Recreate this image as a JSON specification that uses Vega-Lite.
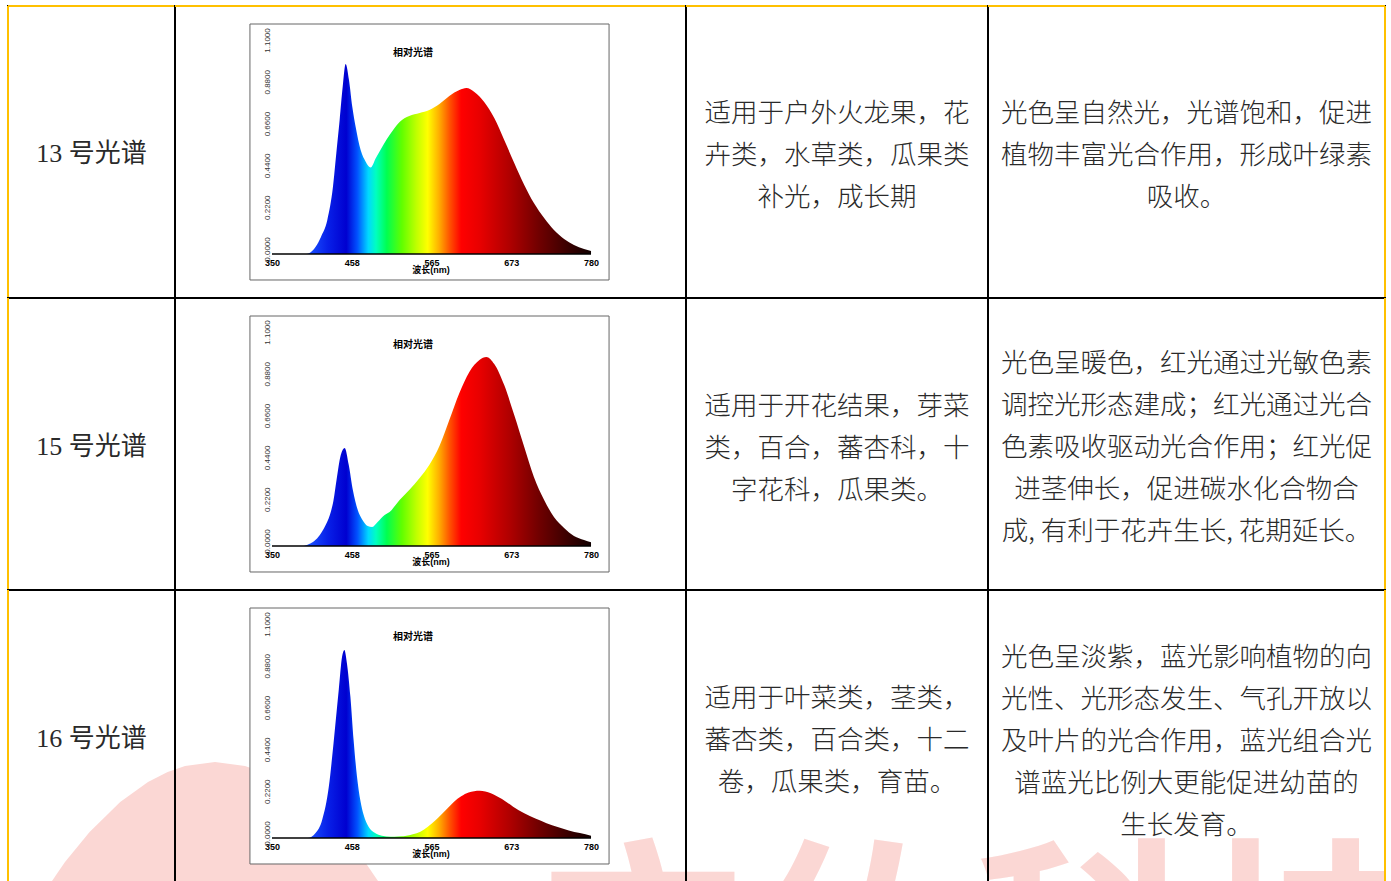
{
  "$schema": "https://vega.github.io/schema/vega-lite/v6.json",
  "background": "white",
  "padding": {"left": 6, "top": 4, "right": 0, "bottom": 0},
  "columns": 4,
  "spacing": 0,
  "bounds": "flush",
  "align": "each",
  "config": {
    "view": {"stroke": "#000000", "strokeWidth": 2},
    "axis": {"grid": false}
  },
  "datasets": {
    "s13": [
      {"wl": 350, "v": 0}, {"wl": 396, "v": 0}, {"wl": 400, "v": 0.004}, {"wl": 408.9, "v": 0.038},
      {"wl": 416, "v": 0.09}, {"wl": 424.6, "v": 0.179}, {"wl": 432.2, "v": 0.354}, {"wl": 436.7, "v": 0.53},
      {"wl": 441.2, "v": 0.705}, {"wl": 445.3, "v": 0.88}, {"wl": 449.3, "v": 1.0}, {"wl": 453.8, "v": 0.916},
      {"wl": 458.3, "v": 0.774}, {"wl": 462.8, "v": 0.668}, {"wl": 469.5, "v": 0.547}, {"wl": 476.3, "v": 0.486},
      {"wl": 483, "v": 0.455},
      {"wl": 490, "v": 0.505}, {"wl": 500, "v": 0.574}, {"wl": 508.5, "v": 0.626}, {"wl": 522, "v": 0.695},
      {"wl": 535, "v": 0.726}, {"wl": 549, "v": 0.742}, {"wl": 562, "v": 0.758}, {"wl": 575.7, "v": 0.79},
      {"wl": 589, "v": 0.832}, {"wl": 602.6, "v": 0.863}, {"wl": 612, "v": 0.874}, {"wl": 622.8, "v": 0.853},
      {"wl": 636, "v": 0.8}, {"wl": 649.6, "v": 0.716}, {"wl": 663, "v": 0.6}, {"wl": 676.5, "v": 0.479},
      {"wl": 690, "v": 0.363}, {"wl": 703, "v": 0.268}, {"wl": 716.8, "v": 0.189}, {"wl": 730, "v": 0.126},
      {"wl": 743.7, "v": 0.079}, {"wl": 757, "v": 0.047}, {"wl": 770.6, "v": 0.026}, {"wl": 780, "v": 0.016}
    ],
    "s15": [
      {"wl": 350, "v": 0}, {"wl": 392, "v": 0}, {"wl": 400, "v": 0.01}, {"wl": 407, "v": 0.026},
      {"wl": 414.5, "v": 0.058}, {"wl": 421, "v": 0.1}, {"wl": 428, "v": 0.163}, {"wl": 433, "v": 0.242},
      {"wl": 437, "v": 0.347}, {"wl": 442.7, "v": 0.479}, {"wl": 448, "v": 0.516}, {"wl": 453.5, "v": 0.426},
      {"wl": 459, "v": 0.295}, {"wl": 465.6, "v": 0.19}, {"wl": 472, "v": 0.137}, {"wl": 479, "v": 0.105},
      {"wl": 485, "v": 0.1}, {"wl": 492.4, "v": 0.126}, {"wl": 501.8, "v": 0.163}, {"wl": 508.5, "v": 0.179},
      {"wl": 522, "v": 0.242}, {"wl": 535, "v": 0.295}, {"wl": 549, "v": 0.358}, {"wl": 562, "v": 0.426},
      {"wl": 575.7, "v": 0.526}, {"wl": 589, "v": 0.663}, {"wl": 602.6, "v": 0.805}, {"wl": 616, "v": 0.916},
      {"wl": 629.6, "v": 0.979}, {"wl": 639, "v": 0.995}, {"wl": 649.6, "v": 0.958}, {"wl": 663, "v": 0.847},
      {"wl": 676.5, "v": 0.689}, {"wl": 690, "v": 0.521}, {"wl": 703, "v": 0.363}, {"wl": 716.8, "v": 0.242},
      {"wl": 730, "v": 0.153}, {"wl": 743.7, "v": 0.095}, {"wl": 757, "v": 0.053}, {"wl": 770.6, "v": 0.032},
      {"wl": 780, "v": 0.02}
    ],
    "s16": [
      {"wl": 350, "v": 0}, {"wl": 398, "v": 0}, {"wl": 408.7, "v": 0.026}, {"wl": 417.6, "v": 0.095},
      {"wl": 426.6, "v": 0.27}, {"wl": 433, "v": 0.5}, {"wl": 440, "v": 0.78}, {"wl": 444.5, "v": 0.955},
      {"wl": 447.6, "v": 0.99}, {"wl": 451, "v": 0.92}, {"wl": 455.7, "v": 0.744}, {"wl": 460, "v": 0.516},
      {"wl": 464.6, "v": 0.323}, {"wl": 469, "v": 0.2}, {"wl": 473.6, "v": 0.121}, {"wl": 480, "v": 0.06},
      {"wl": 489, "v": 0.026}, {"wl": 498, "v": 0.012}, {"wl": 510, "v": 0.007}, {"wl": 520, "v": 0.008},
      {"wl": 535, "v": 0.015}, {"wl": 545, "v": 0.025}, {"wl": 555, "v": 0.045}, {"wl": 565, "v": 0.075},
      {"wl": 575, "v": 0.11}, {"wl": 585, "v": 0.15}, {"wl": 595, "v": 0.19}, {"wl": 605, "v": 0.22},
      {"wl": 615, "v": 0.24}, {"wl": 630, "v": 0.249}, {"wl": 645, "v": 0.236}, {"wl": 660, "v": 0.205},
      {"wl": 675, "v": 0.165}, {"wl": 690, "v": 0.13}, {"wl": 705, "v": 0.102}, {"wl": 720, "v": 0.078},
      {"wl": 735, "v": 0.058}, {"wl": 750, "v": 0.04}, {"wl": 765, "v": 0.026}, {"wl": 780, "v": 0.012}
    ]
  },
  "concat": [
    {
      "width": 167, "height": 292,
      "data": {"values": [{"label": "13 号光谱"}]},
      "layer": [
        {"mark": {"type": "text", "font": "Liberation Serif, Noto Sans CJK SC", "fontSize": 26, "color": "#2a2a2a", "dy": 2}, "encoding": {"text": {"field": "label"}}},
        {"mark": {"type": "rule", "color": "#FFC000", "strokeWidth": 2}, "encoding": {"x": {"datum": 0, "type": "quantitative", "scale": {"domain": [0, 1]}, "axis": null}}},
        {"mark": {"type": "rule", "color": "#FFC000", "strokeWidth": 2}, "encoding": {"y": {"datum": 1, "type": "quantitative", "scale": {"domain": [0, 1]}, "axis": null}}}
      ]
    },
    {
      "width": 511, "height": 292,
      "data": {"name": "s13"},
      "layer": [
        {"data": {"values": [{}]}, "mark": {"type": "rect", "fill": "white", "stroke": "#666666", "strokeWidth": 1}, "encoding": {"x": {"datum": 320.3, "type": "quantitative", "scale": {"domain": [219.3, 908.0], "nice": false, "zero": false}}, "x2": {"datum": 804.3}, "y": {"datum": 1.2105, "type": "quantitative", "scale": {"domain": [-0.2316, 1.3053], "nice": false, "zero": false}}, "y2": {"datum": -0.1368}}},
        {"mark": {"type": "area", "interpolate": "monotone", "color": {"gradient": "linear", "x1": 0, "y1": 0, "x2": 1, "y2": 0, "stops": [
          {"offset": 0, "color": "#1040ff"}, {"offset": 0.116, "color": "#1a50ff"}, {"offset": 0.175, "color": "#0820e8"}, {"offset": 0.233, "color": "#0000d0"}, {"offset": 0.267, "color": "#0050ff"}, {"offset": 0.302, "color": "#00d8ff"}, {"offset": 0.326, "color": "#00ffc0"}, {"offset": 0.36, "color": "#00ff50"}, {"offset": 0.407, "color": "#60ff00"}, {"offset": 0.453, "color": "#c0ff00"}, {"offset": 0.488, "color": "#ffff00"}, {"offset": 0.523, "color": "#ffb000"}, {"offset": 0.558, "color": "#ff5000"}, {"offset": 0.593, "color": "#ff0000"}, {"offset": 0.651, "color": "#e80000"}, {"offset": 0.744, "color": "#b00000"}, {"offset": 0.837, "color": "#700000"}, {"offset": 0.93, "color": "#380000"}, {"offset": 1, "color": "#100000"}]}},
          "encoding": {
            "x": {"field": "wl", "type": "quantitative", "scale": {"domain": [219.3, 908.0], "nice": false, "zero": false}, "axis": {"orient": "bottom", "offset": -44, "values": [350, 457.5, 565, 672.5, 780], "labelExpr": "format(datum.value, '.0f')", "domain": false, "ticks": false, "labelFont": "Liberation Sans", "labelFontSize": 9, "labelFontWeight": "bold", "labelColor": "#000000", "labelPadding": 4, "labelFlush": false, "labelOverlap": false, "title": "波长(nm)", "titleFont": "Liberation Sans, Noto Sans CJK SC", "titleFontSize": 9, "titleFontWeight": "bold", "titleColor": "#000000", "titlePadding": -2, "zindex": 1}},
            "y": {"field": "v", "type": "quantitative", "scale": {"domain": [-0.2316, 1.3053], "nice": false, "zero": false}, "axis": {"orient": "left", "offset": -97, "values": [0, 0.22, 0.44, 0.66, 0.88, 1.1], "format": ".4f", "labelAngle": 270, "domain": false, "ticks": false, "labelFont": "Liberation Sans", "labelFontSize": 8, "labelColor": "#333333", "labelPadding": 1, "labelOffset": -5, "labelFlush": false, "labelOverlap": false, "title": null, "zindex": 1}}
          }
        },
        {"data": {"values": [{}]}, "mark": {"type": "rule", "color": "#000000", "strokeWidth": 1.5}, "encoding": {"x": {"datum": 350, "type": "quantitative", "scale": {"domain": [219.3, 908.0], "nice": false, "zero": false}}, "x2": {"datum": 780}, "y": {"datum": 0, "type": "quantitative", "scale": {"domain": [-0.2316, 1.3053], "nice": false, "zero": false}}}},
        {"data": {"values": [{"t": "相对光谱"}]}, "mark": {"type": "text", "font": "Noto Sans CJK SC", "fontSize": 10, "fontWeight": "bold", "color": "#000000"}, "encoding": {"text": {"field": "t"}, "x": {"datum": 540, "type": "quantitative", "scale": {"domain": [219.3, 908.0], "nice": false, "zero": false}}, "y": {"datum": 1.06, "type": "quantitative", "scale": {"domain": [-0.2316, 1.3053], "nice": false, "zero": false}}}},
        {"data": {"values": [{}]}, "mark": {"type": "rule", "color": "#FFC000", "strokeWidth": 2}, "encoding": {"y": {"datum": 1.3053, "type": "quantitative", "scale": {"domain": [-0.2316, 1.3053], "nice": false, "zero": false}}}}
      ]
    },
    {
      "width": 302, "height": 292,
      "data": {"values": [{"t": "适用于户外火龙果，花\n卉类，水草类，瓜果类\n补光，成长期"}]},
      "layer": [
        {"mark": {"type": "text", "font": "Noto Sans CJK SC", "fontSize": 26.5, "fontWeight": 300, "color": "#2a2a2a", "lineBreak": "\n", "lineHeight": 42, "dy": -38}, "encoding": {"text": {"field": "t"}}},
        {"mark": {"type": "rule", "color": "#FFC000", "strokeWidth": 2}, "encoding": {"y": {"datum": 1, "type": "quantitative", "scale": {"domain": [0, 1]}, "axis": null}}}
      ]
    },
    {
      "width": 397, "height": 292,
      "data": {"values": [{"t": "光色呈自然光，光谱饱和，促进\n植物丰富光合作用，形成叶绿素\n吸收。"}]},
      "layer": [
        {"mark": {"type": "text", "font": "Noto Sans CJK SC", "fontSize": 26.5, "fontWeight": 300, "color": "#2a2a2a", "lineBreak": "\n", "lineHeight": 42, "dy": -38}, "encoding": {"text": {"field": "t"}}},
        {"mark": {"type": "rule", "color": "#FFC000", "strokeWidth": 2}, "encoding": {"y": {"datum": 1, "type": "quantitative", "scale": {"domain": [0, 1]}, "axis": null}}},
        {"mark": {"type": "rule", "color": "#FFC000", "strokeWidth": 2}, "encoding": {"x": {"datum": 1, "type": "quantitative", "scale": {"domain": [0, 1]}, "axis": null}}}
      ]
    },
    {
      "width": 167, "height": 292,
      "data": {"values": [{"label": "15 号光谱"}]},
      "layer": [
        {"mark": {"type": "text", "font": "Liberation Serif, Noto Sans CJK SC", "fontSize": 26, "color": "#2a2a2a", "dy": 3}, "encoding": {"text": {"field": "label"}}},
        {"mark": {"type": "rule", "color": "#FFC000", "strokeWidth": 2}, "encoding": {"x": {"datum": 0, "type": "quantitative", "scale": {"domain": [0, 1]}, "axis": null}}}
      ]
    },
    {
      "width": 511, "height": 292,
      "data": {"name": "s15"},
      "layer": [
        {"data": {"values": [{}]}, "mark": {"type": "rect", "fill": "white", "stroke": "#666666", "strokeWidth": 1}, "encoding": {"x": {"datum": 320.3, "type": "quantitative", "scale": {"domain": [219.3, 908.0], "nice": false, "zero": false}}, "x2": {"datum": 804.3}, "y": {"datum": 1.2105, "type": "quantitative", "scale": {"domain": [-0.2316, 1.3053], "nice": false, "zero": false}}, "y2": {"datum": -0.1368}}},
        {"mark": {"type": "area", "interpolate": "monotone", "color": {"gradient": "linear", "x1": 0, "y1": 0, "x2": 1, "y2": 0, "stops": [
          {"offset": 0, "color": "#1040ff"}, {"offset": 0.116, "color": "#1a50ff"}, {"offset": 0.175, "color": "#0820e8"}, {"offset": 0.233, "color": "#0000d0"}, {"offset": 0.267, "color": "#0050ff"}, {"offset": 0.302, "color": "#00d8ff"}, {"offset": 0.326, "color": "#00ffc0"}, {"offset": 0.36, "color": "#00ff50"}, {"offset": 0.407, "color": "#60ff00"}, {"offset": 0.453, "color": "#c0ff00"}, {"offset": 0.488, "color": "#ffff00"}, {"offset": 0.523, "color": "#ffb000"}, {"offset": 0.558, "color": "#ff5000"}, {"offset": 0.593, "color": "#ff0000"}, {"offset": 0.651, "color": "#e80000"}, {"offset": 0.744, "color": "#b00000"}, {"offset": 0.837, "color": "#700000"}, {"offset": 0.93, "color": "#380000"}, {"offset": 1, "color": "#100000"}]}},
          "encoding": {
            "x": {"field": "wl", "type": "quantitative", "scale": {"domain": [219.3, 908.0], "nice": false, "zero": false}, "axis": {"orient": "bottom", "offset": -44, "values": [350, 457.5, 565, 672.5, 780], "labelExpr": "format(datum.value, '.0f')", "domain": false, "ticks": false, "labelFont": "Liberation Sans", "labelFontSize": 9, "labelFontWeight": "bold", "labelColor": "#000000", "labelPadding": 4, "labelFlush": false, "labelOverlap": false, "title": "波长(nm)", "titleFont": "Liberation Sans, Noto Sans CJK SC", "titleFontSize": 9, "titleFontWeight": "bold", "titleColor": "#000000", "titlePadding": -2, "zindex": 1}},
            "y": {"field": "v", "type": "quantitative", "scale": {"domain": [-0.2316, 1.3053], "nice": false, "zero": false}, "axis": {"orient": "left", "offset": -97, "values": [0, 0.22, 0.44, 0.66, 0.88, 1.1], "format": ".4f", "labelAngle": 270, "domain": false, "ticks": false, "labelFont": "Liberation Sans", "labelFontSize": 8, "labelColor": "#333333", "labelPadding": 1, "labelOffset": -5, "labelFlush": false, "labelOverlap": false, "title": null, "zindex": 1}}
          }
        },
        {"data": {"values": [{}]}, "mark": {"type": "rule", "color": "#000000", "strokeWidth": 1.5}, "encoding": {"x": {"datum": 350, "type": "quantitative", "scale": {"domain": [219.3, 908.0], "nice": false, "zero": false}}, "x2": {"datum": 780}, "y": {"datum": 0, "type": "quantitative", "scale": {"domain": [-0.2316, 1.3053], "nice": false, "zero": false}}}},
        {"data": {"values": [{"t": "相对光谱"}]}, "mark": {"type": "text", "font": "Noto Sans CJK SC", "fontSize": 10, "fontWeight": "bold", "color": "#000000"}, "encoding": {"text": {"field": "t"}, "x": {"datum": 540, "type": "quantitative", "scale": {"domain": [219.3, 908.0], "nice": false, "zero": false}}, "y": {"datum": 1.06, "type": "quantitative", "scale": {"domain": [-0.2316, 1.3053], "nice": false, "zero": false}}}}
      ]
    },
    {
      "width": 302, "height": 292,
      "data": {"values": [{"t": "适用于开花结果，芽菜\n类，百合，蕃杏科，十\n字花科，瓜果类。"}]},
      "mark": {"type": "text", "font": "Noto Sans CJK SC", "fontSize": 26.5, "fontWeight": 300, "color": "#2a2a2a", "lineBreak": "\n", "lineHeight": 42, "dy": -37},
      "encoding": {"text": {"field": "t"}}
    },
    {
      "width": 397, "height": 292,
      "data": {"values": [{"t": "光色呈暖色，红光通过光敏色素\n调控光形态建成；红光通过光合\n色素吸收驱动光合作用；红光促\n进茎伸长，促进碳水化合物合\n成, 有利于花卉生长, 花期延长。"}]},
      "layer": [
        {"mark": {"type": "text", "font": "Noto Sans CJK SC", "fontSize": 26.5, "fontWeight": 300, "color": "#2a2a2a", "lineBreak": "\n", "lineHeight": 42, "dy": -80}, "encoding": {"text": {"field": "t"}}},
        {"mark": {"type": "rule", "color": "#FFC000", "strokeWidth": 2}, "encoding": {"x": {"datum": 1, "type": "quantitative", "scale": {"domain": [0, 1]}, "axis": null}}}
      ]
    },
    {
      "width": 167, "height": 292,
      "data": {"values": [{"label": "16 号光谱"}]},
      "layer": [
        {"data": {"values": [{}]}, "mark": {"type": "point", "shape": "M0,-1 L0.15,-0.98 L0.237,-0.95 L0.335,-0.9 L0.474,-0.8 L0.627,-0.65 L0.75,-0.5 L0.887,-0.3 L1.006,-0.1 L1.006,0.2 L-1.006,0.2 L-1.006,-0.1 L-0.887,-0.3 L-0.75,-0.5 L-0.627,-0.65 L-0.474,-0.8 L-0.335,-0.9 L-0.237,-0.95 L-0.15,-0.98 Z", "size": 160000, "filled": true, "fill": "#fbd7d4", "opacity": 1, "strokeWidth": 0, "clip": true}, "encoding": {"x": {"datum": 1.2395, "type": "quantitative", "scale": {"domain": [0, 1]}, "axis": null}, "y": {"datum": -0.274, "type": "quantitative", "scale": {"domain": [0, 1]}, "axis": null}}},
        {"mark": {"type": "text", "font": "Liberation Serif, Noto Sans CJK SC", "fontSize": 26, "color": "#2a2a2a", "dy": 3}, "encoding": {"text": {"field": "label"}}},
        {"mark": {"type": "rule", "color": "#FFC000", "strokeWidth": 2}, "encoding": {"x": {"datum": 0, "type": "quantitative", "scale": {"domain": [0, 1]}, "axis": null}}},
        {"mark": {"type": "rule", "color": "#000000", "strokeWidth": 2}, "encoding": {"x": {"datum": 1, "type": "quantitative", "scale": {"domain": [0, 1]}, "axis": null}}}
      ]
    },
    {
      "width": 511, "height": 292,
      "data": {"name": "s16"},
      "layer": [
        {"data": {"values": [{}]}, "mark": {"type": "point", "shape": "M0,-1 L0.15,-0.98 L0.237,-0.95 L0.335,-0.9 L0.474,-0.8 L0.627,-0.65 L0.75,-0.5 L0.887,-0.3 L1.006,-0.1 L1.006,0.2 L-1.006,0.2 L-1.006,-0.1 L-0.887,-0.3 L-0.75,-0.5 L-0.627,-0.65 L-0.474,-0.8 L-0.335,-0.9 L-0.237,-0.95 L-0.15,-0.98 Z", "size": 160000, "filled": true, "fill": "#fbd7d4", "opacity": 1, "strokeWidth": 0, "clip": true}, "encoding": {"x": {"datum": 273.2, "type": "quantitative", "scale": {"domain": [219.3, 908.0], "nice": false, "zero": false}}, "y": {"datum": -0.6526, "type": "quantitative", "scale": {"domain": [-0.2316, 1.3053], "nice": false, "zero": false}}}},
        {"data": {"values": [{"t": "广佑科技"}]}, "mark": {"type": "text", "font": "Noto Sans CJK SC", "fontSize": 225, "fontWeight": "bold", "color": "#fbd7d4", "align": "left", "baseline": "top", "clip": true}, "encoding": {"text": {"field": "t"}, "x": {"datum": 687.0, "type": "quantitative", "scale": {"domain": [219.3, 908.0], "nice": false, "zero": false}}, "y": {"datum": -0.0737, "type": "quantitative", "scale": {"domain": [-0.2316, 1.3053], "nice": false, "zero": false}}}},
        {"data": {"values": [{}]}, "mark": {"type": "rect", "fill": "white", "stroke": "#666666", "strokeWidth": 1}, "encoding": {"x": {"datum": 320.3, "type": "quantitative", "scale": {"domain": [219.3, 908.0], "nice": false, "zero": false}}, "x2": {"datum": 804.3}, "y": {"datum": 1.2105, "type": "quantitative", "scale": {"domain": [-0.2316, 1.3053], "nice": false, "zero": false}}, "y2": {"datum": -0.1368}}},
        {"mark": {"type": "area", "interpolate": "monotone", "color": {"gradient": "linear", "x1": 0, "y1": 0, "x2": 1, "y2": 0, "stops": [
          {"offset": 0, "color": "#1040ff"}, {"offset": 0.116, "color": "#1a50ff"}, {"offset": 0.175, "color": "#0820e8"}, {"offset": 0.233, "color": "#0000d0"}, {"offset": 0.267, "color": "#0050ff"}, {"offset": 0.302, "color": "#00d8ff"}, {"offset": 0.326, "color": "#00ffc0"}, {"offset": 0.36, "color": "#00ff50"}, {"offset": 0.407, "color": "#60ff00"}, {"offset": 0.453, "color": "#c0ff00"}, {"offset": 0.488, "color": "#ffff00"}, {"offset": 0.523, "color": "#ffb000"}, {"offset": 0.558, "color": "#ff5000"}, {"offset": 0.593, "color": "#ff0000"}, {"offset": 0.651, "color": "#e80000"}, {"offset": 0.744, "color": "#b00000"}, {"offset": 0.837, "color": "#700000"}, {"offset": 0.93, "color": "#380000"}, {"offset": 1, "color": "#100000"}]}},
          "encoding": {
            "x": {"field": "wl", "type": "quantitative", "scale": {"domain": [219.3, 908.0], "nice": false, "zero": false}, "axis": {"orient": "bottom", "offset": -44, "values": [350, 457.5, 565, 672.5, 780], "labelExpr": "format(datum.value, '.0f')", "domain": false, "ticks": false, "labelFont": "Liberation Sans", "labelFontSize": 9, "labelFontWeight": "bold", "labelColor": "#000000", "labelPadding": 4, "labelFlush": false, "labelOverlap": false, "title": "波长(nm)", "titleFont": "Liberation Sans, Noto Sans CJK SC", "titleFontSize": 9, "titleFontWeight": "bold", "titleColor": "#000000", "titlePadding": -2, "zindex": 1}},
            "y": {"field": "v", "type": "quantitative", "scale": {"domain": [-0.2316, 1.3053], "nice": false, "zero": false}, "axis": {"orient": "left", "offset": -97, "values": [0, 0.22, 0.44, 0.66, 0.88, 1.1], "format": ".4f", "labelAngle": 270, "domain": false, "ticks": false, "labelFont": "Liberation Sans", "labelFontSize": 8, "labelColor": "#333333", "labelPadding": 1, "labelOffset": -5, "labelFlush": false, "labelOverlap": false, "title": null, "zindex": 1}}
          }
        },
        {"data": {"values": [{}]}, "mark": {"type": "rule", "color": "#000000", "strokeWidth": 1.5}, "encoding": {"x": {"datum": 350, "type": "quantitative", "scale": {"domain": [219.3, 908.0], "nice": false, "zero": false}}, "x2": {"datum": 780}, "y": {"datum": 0, "type": "quantitative", "scale": {"domain": [-0.2316, 1.3053], "nice": false, "zero": false}}}},
        {"data": {"values": [{"t": "相对光谱"}]}, "mark": {"type": "text", "font": "Noto Sans CJK SC", "fontSize": 10, "fontWeight": "bold", "color": "#000000"}, "encoding": {"text": {"field": "t"}, "x": {"datum": 540, "type": "quantitative", "scale": {"domain": [219.3, 908.0], "nice": false, "zero": false}}, "y": {"datum": 1.06, "type": "quantitative", "scale": {"domain": [-0.2316, 1.3053], "nice": false, "zero": false}}}},
        {"data": {"values": [{}]}, "mark": {"type": "rule", "color": "#000000", "strokeWidth": 2}, "encoding": {"x": {"datum": 219.3, "type": "quantitative", "scale": {"domain": [219.3, 908.0], "nice": false, "zero": false}}}},
        {"data": {"values": [{}]}, "mark": {"type": "rule", "color": "#000000", "strokeWidth": 2}, "encoding": {"x": {"datum": 908.0, "type": "quantitative", "scale": {"domain": [219.3, 908.0], "nice": false, "zero": false}}}}
      ]
    },
    {
      "width": 302, "height": 292,
      "data": {"values": [{"t": "适用于叶菜类，茎类，\n蕃杏类，百合类，十二\n卷，瓜果类，育苗。"}]},
      "layer": [
        {"data": {"values": [{"t": "广佑科技"}]}, "mark": {"type": "text", "font": "Noto Sans CJK SC", "fontSize": 225, "fontWeight": "bold", "color": "#fbd7d4", "align": "left", "baseline": "top", "clip": true}, "encoding": {"text": {"field": "t"}, "x": {"datum": -0.543, "type": "quantitative", "scale": {"domain": [0, 1]}, "axis": null}, "y": {"datum": 0.1027, "type": "quantitative", "scale": {"domain": [0, 1]}, "axis": null}}},
        {"mark": {"type": "text", "font": "Noto Sans CJK SC", "fontSize": 26.5, "fontWeight": 300, "color": "#2a2a2a", "lineBreak": "\n", "lineHeight": 42, "dy": -37}, "encoding": {"text": {"field": "t"}}},
        {"mark": {"type": "rule", "color": "#000000", "strokeWidth": 2}, "encoding": {"x": {"datum": 0, "type": "quantitative", "scale": {"domain": [0, 1]}, "axis": null}}},
        {"mark": {"type": "rule", "color": "#000000", "strokeWidth": 2}, "encoding": {"x": {"datum": 1, "type": "quantitative", "scale": {"domain": [0, 1]}, "axis": null}}}
      ]
    },
    {
      "width": 397, "height": 292,
      "data": {"values": [{"t": "光色呈淡紫，蓝光影响植物的向\n光性、光形态发生、气孔开放以\n及叶片的光合作用，蓝光组合光\n谱蓝光比例大更能促进幼苗的\n生长发育。"}]},
      "layer": [
        {"data": {"values": [{"t": "广佑科技"}]}, "mark": {"type": "text", "font": "Noto Sans CJK SC", "fontSize": 225, "fontWeight": "bold", "color": "#fbd7d4", "align": "left", "baseline": "top", "clip": true}, "encoding": {"text": {"field": "t"}, "x": {"datum": -1.1738, "type": "quantitative", "scale": {"domain": [0, 1]}, "axis": null}, "y": {"datum": 0.1027, "type": "quantitative", "scale": {"domain": [0, 1]}, "axis": null}}},
        {"mark": {"type": "text", "font": "Noto Sans CJK SC", "fontSize": 26.5, "fontWeight": 300, "color": "#2a2a2a", "lineBreak": "\n", "lineHeight": 42, "dy": -78}, "encoding": {"text": {"field": "t"}}},
        {"mark": {"type": "rule", "color": "#000000", "strokeWidth": 2}, "encoding": {"x": {"datum": 0, "type": "quantitative", "scale": {"domain": [0, 1]}, "axis": null}}},
        {"mark": {"type": "rule", "color": "#FFC000", "strokeWidth": 2}, "encoding": {"x": {"datum": 1, "type": "quantitative", "scale": {"domain": [0, 1]}, "axis": null}}}
      ]
    }
  ]
}
